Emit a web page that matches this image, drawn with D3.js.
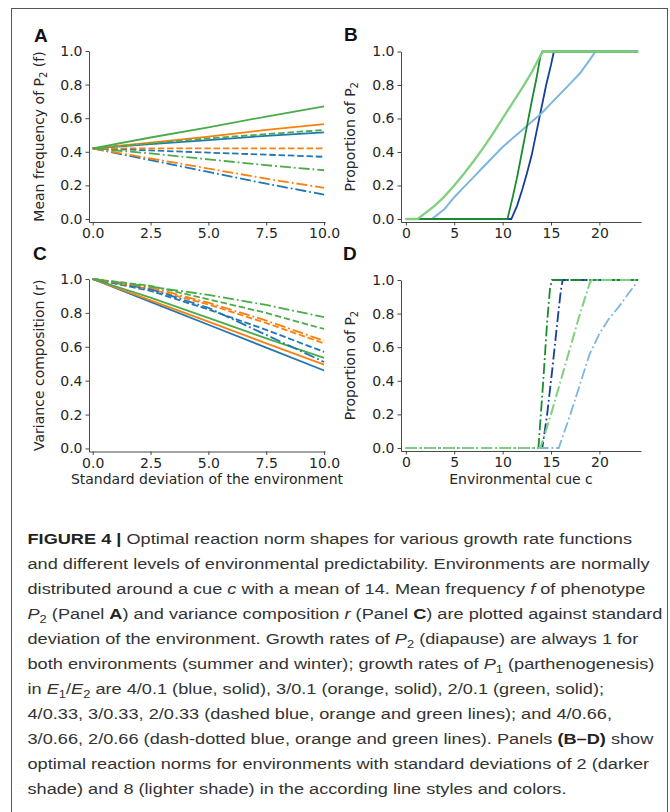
<!DOCTYPE html>
<html>
<head>
<meta charset="utf-8">
<script src="https://cdn.jsdelivr.net/npm/d3@7"></script>
<style>
  body { margin: 0; background: #fff; }
  svg { display: block; }
</style>
</head>
<body>
<script>
// x values (standard deviation of the environment) for panels A and C
const sdValues = [0, 2.5, 5, 7.5, 10];
const sdTicks = [0, 2.5, 5, 7.5, 10];
const cueTicks = [0, 5, 10, 15, 20];
const propTicks = [0, 0.2, 0.4, 0.6, 0.8, 1.0];

// Panel A: mean frequency of P2
const freqBlueSolid = [0.42, 0.445, 0.47, 0.495, 0.515];
const freqOrangeSolid = [0.42, 0.455, 0.49, 0.53, 0.565];
const freqGreenSolid = [0.42, 0.485, 0.545, 0.61, 0.67];
const freqBlueDashed = [0.42, 0.408, 0.395, 0.383, 0.37];
const freqOrangeDashed = [0.42, 0.42, 0.42, 0.42, 0.42];
const freqGreenDashed = [0.42, 0.45, 0.48, 0.505, 0.53];
const freqBlueDashdot = [0.42, 0.35, 0.28, 0.21, 0.145];
const freqOrangeDashdot = [0.42, 0.36, 0.3, 0.24, 0.185];
const freqGreenDashdot = [0.42, 0.39, 0.355, 0.32, 0.29];

// Panel C: variance composition r
const varBlueSolid = [1.0, 0.865, 0.73, 0.595, 0.46];
const varOrangeSolid = [1.0, 0.874, 0.748, 0.62, 0.495];
const varGreenSolid = [1.0, 0.89, 0.77, 0.65, 0.535];
const varBlueDashed = [1.0, 0.93, 0.82, 0.70, 0.57];
const varOrangeDashed = [1.0, 0.94, 0.85, 0.74, 0.62];
const varGreenDashed = [1.0, 0.96, 0.88, 0.80, 0.705];
const varBlueDashdot = [1.0, 0.94, 0.83, 0.67, 0.51];
const varOrangeDashdot = [1.0, 0.95, 0.86, 0.755, 0.635];
const varGreenDashdot = [1.0, 0.955, 0.906, 0.847, 0.775];

// Panel B: reaction norms, solid lines, [cue, proportion]
const normBlueSd2 = [[0, 0], [10.9, 0], [11.5, 0.08], [12, 0.17], [12.5, 0.27], [13, 0.38], [13.5, 0.52], [14, 0.66], [14.5, 0.8], [15, 0.92], [15.3, 1], [24, 1]];
const normBlueSd8 = [[0, 0], [2.7, 0], [4, 0.06], [5, 0.13], [6, 0.19], [7, 0.25], [8, 0.31], [9, 0.37], [10, 0.43], [11, 0.48], [12, 0.53], [13, 0.58], [14, 0.63], [15, 0.69], [16, 0.75], [17, 0.81], [18, 0.87], [19, 0.95], [19.6, 1], [24, 1]];
const normGreenSd2 = [[0, 0], [10.5, 0], [11, 0.12], [11.5, 0.25], [12, 0.4], [12.5, 0.55], [13, 0.7], [13.5, 0.84], [13.9, 0.97], [14.1, 1], [24, 1]];
const normGreenSd8 = [[0, 0], [1.2, 0], [2, 0.035], [3, 0.08], [4, 0.135], [5, 0.2], [6, 0.27], [7, 0.345], [8, 0.425], [9, 0.51], [10, 0.6], [11, 0.69], [12, 0.78], [13, 0.875], [13.9, 0.975], [14.2, 1], [24, 1]];

// Panel D: reaction norms, dash-dotted lines
const normBlueSd2D = [[0, 0], [14.1, 0], [14.6, 0.2], [15.1, 0.45], [15.6, 0.72], [16, 0.93], [16.2, 1], [24, 1]];
const normBlueSd8D = [[0, 0], [15.8, 0], [17, 0.2], [18, 0.38], [19, 0.56], [20, 0.68], [21, 0.77], [22, 0.84], [23, 0.92], [23.8, 0.98]];
const normGreenSd2D = [[0, 0], [13.7, 0], [14.2, 0.4], [14.6, 0.75], [14.9, 0.95], [15.1, 1], [24, 1]];
const normGreenSd8D = [[0, 0], [13.9, 0], [15, 0.2], [16, 0.4], [17, 0.6], [18, 0.8], [19, 0.98], [19.2, 1], [24, 1]];

const colors = { blue: "#1f77b4", orange: "#ff7f0e", green: "#4aab4a",
  darkBlue: "#143f9e", lightBlue: "#7db6e0", darkGreen: "#1b8a30", lightGreen: "#7fd07f" };
const dashes = { solid: null, dashed: "6.5,2.8", dashdot: "11,3,1.8,3" };

const svg = d3.select("body").append("svg")
  .attr("width", 670)
  .attr("height", 812);

// outer frame
svg.append("rect")
  .attr("x", 11.5).attr("y", 8.5)
  .attr("width", 656).attr("height", 820)
  .attr("fill", "none")
  .attr("stroke", "#555")
  .attr("stroke-width", 1);

const tickFont = "'DejaVu Sans', sans-serif";
const fontSize = "14px";

const makePanel = (opts) => {
  const x = d3.scaleLinear().domain(opts.xDomain).range(opts.xRange);
  const y = d3.scaleLinear().domain(opts.yDomain).range(opts.yRange);
  const g = svg.append("g");

  const yAx = g.append("g")
    .attr("transform", `translate(${opts.xRange[0]},0)`)
    .call(d3.axisLeft(y).tickValues(propTicks).tickFormat(d3.format(".1f"))
      .tickSize(3.5).tickPadding(3).tickSizeOuter(0));
  const xAx = g.append("g")
    .attr("transform", `translate(0,${opts.yRange[0]})`)
    .call(d3.axisBottom(x).tickValues(opts.xTicks).tickFormat(opts.xFormat)
      .tickSize(3.5).tickPadding(3).tickSizeOuter(0));
  [yAx, xAx].forEach(a => {
    a.selectAll("path, line").attr("stroke", "#333").attr("stroke-width", 0.9);
    a.selectAll("text").attr("fill", "#262626")
      .style("font-family", tickFont).style("font-size", fontSize);
  });

  const line = d3.line().x(d => x(d[0])).y(d => y(d[1]));
  g.append("g").attr("fill", "none")
    .selectAll("path")
    .data(opts.series)
    .join("path")
    .attr("d", d => line(d.values))
    .attr("stroke", d => d.color)
    .attr("stroke-width", d => d.width)
    .attr("stroke-dasharray", d => dashes[d.style]);

  // panel letter
  svg.append("text")
    .attr("x", opts.letterPos[0]).attr("y", opts.letterPos[1])
    .style("font-family", "'Liberation Sans', Arial, sans-serif")
    .style("font-weight", "bold").style("font-size", "19px")
    .attr("fill", "#111")
    .text(opts.letter);

  // y label (rotated)
  const yl = svg.append("text")
    .attr("transform", `translate(${opts.yLabelX},${(opts.yRange[0] + opts.yRange[1]) / 2}) rotate(-90)`)
    .attr("text-anchor", "middle")
    .style("font-family", tickFont).style("font-size", fontSize)
    .attr("fill", "#262626");
  opts.yLabel.forEach(([t, s]) => {
    const ts = yl.append("tspan").text(t);
    if (s === "sub") ts.attr("dy", 3).style("font-size", "10px");
    if (s === "after") ts.attr("dy", -3);
  });

  if (opts.xLabel) {
    svg.append("text")
      .attr("x", (opts.xRange[0] + opts.xRange[1]) / 2)
      .attr("y", opts.xLabelY)
      .attr("text-anchor", "middle")
      .style("font-family", tickFont).style("font-size", fontSize)
      .attr("fill", "#262626")
      .text(opts.xLabel);
  }
};

const sdSeries = (blue, orange, green, style) => [
  { values: sdValues.map((v, i) => [v, blue[i]]), color: colors.blue, style, width: 1.8 },
  { values: sdValues.map((v, i) => [v, orange[i]]), color: colors.orange, style, width: 1.8 },
  { values: sdValues.map((v, i) => [v, green[i]]), color: colors.green, style, width: 1.8 }
];

// Panel A
makePanel({
  letter: "A", letterPos: [34, 42],
  xDomain: [-0.16, 10.04], xRange: [89, 325],
  yDomain: [-0.018, 1], yRange: [222, 51],
  xTicks: sdTicks, xFormat: d3.format(".1f"),
  yLabel: [["Mean frequency of P"], ["2", "sub"], [" (f)", "after"]], yLabelX: 44,
  series: [
    ...sdSeries(freqBlueSolid, freqOrangeSolid, freqGreenSolid, "solid"),
    ...sdSeries(freqBlueDashed, freqOrangeDashed, freqGreenDashed, "dashed"),
    ...sdSeries(freqBlueDashdot, freqOrangeDashdot, freqGreenDashdot, "dashdot")
  ]
});

// Panel B
makePanel({
  letter: "B", letterPos: [344, 41],
  xDomain: [-0.5, 24.3], xRange: [401, 641],
  yDomain: [-0.018, 1], yRange: [222, 51.5],
  xTicks: cueTicks, xFormat: d3.format("d"),
  yLabel: [["Proportion of P"], ["2", "sub"]], yLabelX: 355,
  series: [
    { values: normBlueSd2, color: colors.darkBlue, style: "solid", width: 1.8 },
    { values: normBlueSd8, color: colors.lightBlue, style: "solid", width: 2 },
    { values: normGreenSd2, color: colors.darkGreen, style: "solid", width: 1.8 },
    { values: normGreenSd8, color: colors.lightGreen, style: "solid", width: 2.3 }
  ]
});

// Panel C
makePanel({
  letter: "C", letterPos: [33, 260],
  xDomain: [-0.16, 10.04], xRange: [89, 325],
  yDomain: [-0.018, 1], yRange: [451.5, 279],
  xTicks: sdTicks, xFormat: d3.format(".1f"),
  yLabel: [["Variance composition (r)"]], yLabelX: 44,
  xLabel: "Standard deviation of the environment", xLabelY: 484,
  series: [
    ...sdSeries(varBlueSolid, varOrangeSolid, varGreenSolid, "solid"),
    ...sdSeries(varBlueDashed, varOrangeDashed, varGreenDashed, "dashed"),
    ...sdSeries(varBlueDashdot, varOrangeDashdot, varGreenDashdot, "dashdot")
  ]
});

// Panel D
makePanel({
  letter: "D", letterPos: [343, 260],
  xDomain: [-0.5, 24.3], xRange: [401, 641],
  yDomain: [-0.018, 1], yRange: [451, 280],
  xTicks: cueTicks, xFormat: d3.format("d"),
  yLabel: [["Proportion of P"], ["2", "sub"]], yLabelX: 355,
  xLabel: "Environmental cue c", xLabelY: 484,
  series: [
    { values: normBlueSd2D, color: colors.darkBlue, style: "dashdot", width: 1.8 },
    { values: normBlueSd8D, color: colors.lightBlue, style: "dashdot", width: 1.8 },
    { values: normGreenSd2D, color: colors.darkGreen, style: "dashdot", width: 1.8 },
    { values: normGreenSd8D, color: colors.lightGreen, style: "dashdot", width: 2 }
  ]
});

// caption
const captionLines = [
  [["FIGURE 4 | ", "b"], ["Optimal reaction norm shapes for various growth rate functions"]],
  [["and different levels of environmental predictability. Environments are normally"]],
  [["distributed around a cue "], ["c", "i"], [" with a mean of 14. Mean frequency "], ["f", "i"], [" of phenotype"]],
  [["P", "i"], ["2", "sub"], [" (Panel "], ["A", "b"], [") and variance composition "], ["r", "i"], [" (Panel "], ["C", "b"], [") are plotted against standard"]],
  [["deviation of the environment. Growth rates of "], ["P", "i"], ["2", "sub"], [" (diapause) are always 1 for"]],
  [["both environments (summer and winter); growth rates of "], ["P", "i"], ["1", "sub"], [" (parthenogenesis)"]],
  [["in "], ["E", "i"], ["1", "sub"], ["/"], ["E", "i"], ["2", "sub"], [" are 4/0.1 (blue, solid), 3/0.1 (orange, solid), 2/0.1 (green, solid);"]],
  [["4/0.33, 3/0.33, 2/0.33 (dashed blue, orange and green lines); and 4/0.66,"]],
  [["3/0.66, 2/0.66 (dash-dotted blue, orange and green lines). Panels "], ["(B–D)", "b"], [" show"]],
  [["optimal reaction norms for environments with standard deviations of 2 (darker"]],
  [["shade) and 8 (lighter shade) in the according line styles and colors."]]
];

const cap = svg.append("g")
  .style("font-family", "'Liberation Sans Narrow', 'Liberation Sans', Arial, sans-serif")
  .style("font-size", "15.5px")
  .attr("fill", "#333");

const capTexts = captionLines.map((segs, i) => {
  const t = cap.append("text").attr("x", 0).attr("y", 544 + i * 25);
  let shifted = false;
  segs.forEach(([txt, s]) => {
    const ts = t.append("tspan").text(txt);
    if (s === "b") ts.style("font-weight", "bold").attr("fill", "#222");
    if (s === "i") ts.style("font-style", "italic");
    if (s === "sub") { ts.attr("dy", 4).style("font-size", "11px"); shifted = true; }
    else if (shifted) { ts.attr("dy", -4); shifted = false; }
  });
  return t;
});

// squeeze the caption to the width of the condensed face used in the figure
const w0 = capTexts[0].node().getComputedTextLength();
const sx = 605 / w0;
cap.attr("transform", `translate(27.5,0) scale(${sx},1)`);
</script>
</body>
</html>
